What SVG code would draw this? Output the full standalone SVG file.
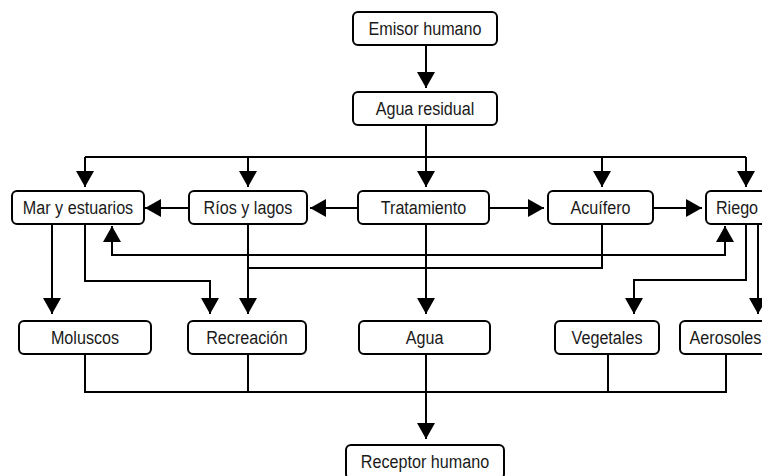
<svg xmlns="http://www.w3.org/2000/svg" width="762" height="476" viewBox="0 0 762 476">
<defs>
<marker id="ah" markerUnits="userSpaceOnUse" markerWidth="18" markerHeight="18" refX="16" refY="9" orient="auto-start-reverse" viewBox="0 0 16 18">
<path d="M0,0 L16,9 L0,18 Z" fill="#000"/>
</marker>
<style>
.box{fill:#fff;stroke:#000;stroke-width:2}
.lbl{font-family:"Liberation Sans",Arial,sans-serif;font-size:19px;fill:#1a1a1a;text-anchor:middle}
.c{fill:none;stroke:#000;stroke-width:2}
.a{marker-end:url(#ah)}
.ab{marker-start:url(#ah);marker-end:url(#ah)}
</style>
</defs>
<rect width="762" height="476" fill="#fff"/>
<g id="connectors">
<path class="c a" d="M426,45 V88"/>
<path class="c" d="M426,125 V157 M85,157 H746"/>
<path class="c a" d="M85,157 V187"/>
<path class="c a" d="M248,157 V187"/>
<path class="c a" d="M426,157 V187"/>
<path class="c a" d="M602,157 V187"/>
<path class="c a" d="M746,157 V187"/>
<path class="c a" d="M189,208 H145"/>
<path class="c a" d="M358,208 H310"/>
<path class="c a" d="M489,208 H544"/>
<path class="c a" d="M653,208 H702"/>
<path class="c ab" d="M112,226 V255 H725 V226"/>
<path class="c" d="M602,224 V268 H248"/>
<path class="c a" d="M248,224 V314"/>
<path class="c a" d="M52,224 V314"/>
<path class="c a" d="M85,224 V281 H210 V314"/>
<path class="c a" d="M426,224 V314"/>
<path class="c a" d="M746,224 V280 H634 V314"/>
<path class="c a" d="M758,224 V314"/>
<path class="c" d="M85,354 V392 H726 V354 M248,354 V392 M608,354 V392"/>
<path class="c a" d="M426,354 V439"/>
</g>
<g id="emisor"><rect class="box" x="353" y="12" width="144" height="33" rx="5"/><text class="lbl" transform="translate(425,35) scale(0.85,1)">Emisor humano</text></g>
<g id="agua-residual"><rect class="box" x="353" y="92" width="144" height="33" rx="5"/><text class="lbl" transform="translate(425,115) scale(0.85,1)">Agua residual</text></g>
<g id="mar"><rect class="box" x="12" y="191" width="132" height="33" rx="5"/><text class="lbl" transform="translate(78,214) scale(0.85,1)">Mar y estuarios</text></g>
<g id="rios"><rect class="box" x="189" y="191" width="118" height="33" rx="5"/><text class="lbl" transform="translate(248,214) scale(0.85,1)">Ríos y lagos</text></g>
<g id="tratamiento"><rect class="box" x="358" y="191" width="131" height="33" rx="5"/><text class="lbl" transform="translate(423.5,214) scale(0.85,1)">Tratamiento</text></g>
<g id="acuifero"><rect class="box" x="548" y="191" width="105" height="33" rx="5"/><text class="lbl" transform="translate(600.5,214) scale(0.85,1)">Acuífero</text></g>
<g id="riego"><rect class="box" x="706" y="191" width="62" height="33" rx="5"/><text class="lbl" transform="translate(737,214) scale(0.85,1)">Riego</text></g>
<g id="moluscos"><rect class="box" x="19" y="321" width="132" height="33" rx="5"/><text class="lbl" transform="translate(85,344) scale(0.85,1)">Moluscos</text></g>
<g id="recreacion"><rect class="box" x="188" y="321" width="118" height="33" rx="5"/><text class="lbl" transform="translate(247,344) scale(0.85,1)">Recreación</text></g>
<g id="agua"><rect class="box" x="359" y="321" width="131" height="33" rx="5"/><text class="lbl" transform="translate(424.5,344) scale(0.85,1)">Agua</text></g>
<g id="vegetales"><rect class="box" x="555" y="321" width="104" height="33" rx="5"/><text class="lbl" transform="translate(607,344) scale(0.85,1)">Vegetales</text></g>
<g id="aerosoles"><rect class="box" x="680" y="321" width="91" height="33" rx="5"/><text class="lbl" transform="translate(725.5,344) scale(0.85,1)">Aerosoles</text></g>
<g id="receptor"><rect class="box" x="346" y="445" width="158" height="34" rx="5"/><text class="lbl" transform="translate(425,468) scale(0.85,1)">Receptor humano</text></g>
</svg>
